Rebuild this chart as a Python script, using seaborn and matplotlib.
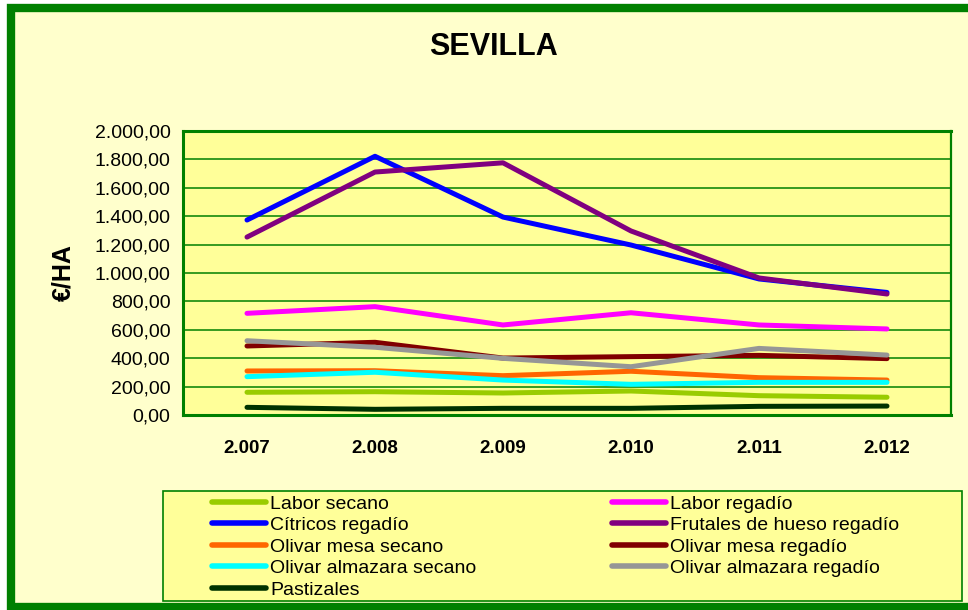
import matplotlib
matplotlib.use("Agg")
import matplotlib.pyplot as plt
from matplotlib.patches import Rectangle
from matplotlib.lines import Line2D
from matplotlib import font_manager
import seaborn as sns
import pandas as pd

# ---- data ----
years = ["2.007", "2.008", "2.009", "2.010", "2.011", "2.012"]
labor_secano = [160, 164, 155, 169, 136, 125]
labor_regadio = [716, 763, 634, 720, 634, 606]
citricos_regadio = [1373, 1822, 1394, 1197, 958, 863]
frutales_regadio = [1253, 1711, 1776, 1296, 965, 852]
olivar_mesa_secano = [310, 312, 277, 308, 263, 246]
olivar_mesa_regadio = [486, 512, 401, 411, 420, 397]
olivar_alm_secano = [270, 301, 246, 216, 230, 230]
olivar_alm_regadio = [523, 477, 399, 340, 469, 422]
pastizales = [54, 40, 47, 47, 61, 63]

series_names = ["Labor secano", "Labor regadío", "Cítricos regadío",
                "Frutales de hueso regadío", "Olivar mesa secano",
                "Olivar mesa regadío", "Olivar almazara secano",
                "Olivar almazara regadío", "Pastizales"]
series_values = [labor_secano, labor_regadio, citricos_regadio, frutales_regadio,
                 olivar_mesa_secano, olivar_mesa_regadio, olivar_alm_secano,
                 olivar_alm_regadio, pastizales]
colors = ["#99CC00", "#FF00FF", "#0000FF", "#800080", "#FF6600",
          "#800000", "#00FFFF", "#969696", "#003300"]

rows = []
for name, vals in zip(series_names, series_values):
    for i, v in enumerate(vals):
        rows.append({"serie": name, "x": i, "valor": v})
df = pd.DataFrame(rows)

sns.set_theme(style="white")
avail = {f.name for f in font_manager.fontManager.ttflist}
base = "Liberation Sans" if "Liberation Sans" in avail else "DejaVu Sans"
narrow = "Liberation Sans Narrow" if "Liberation Sans Narrow" in avail else base
plt.rcParams["font.family"] = [base, "DejaVu Sans"]
plt.rcParams["text.color"] = "black"
plt.rcParams["xtick.color"] = "black"
plt.rcParams["ytick.color"] = "black"
plt.rcParams["axes.labelcolor"] = "black"

W, H = 968, 610
fig = plt.figure(figsize=(W / 100, H / 100), dpi=100, facecolor="white")

# outer background with green border
green = "#008000"
fig.patches.append(Rectangle((11 / W, (H - 607) / H), 1100 / W, (607 - 8) / H,
                             transform=fig.transFigure, facecolor="#FFFFCC",
                             edgecolor=green, linewidth=6, zorder=-10))

ax = fig.add_axes([183 / W, (H - 415) / H, (951 - 183) / W, (415 - 131) / H])
ax.set_zorder(2)
ax.set_facecolor("#FFFF99")

palette = dict(zip(series_names, colors))
sns.lineplot(data=df, x="x", y="valor", hue="serie", hue_order=series_names,
             palette=palette, linewidth=3.6, sort=False, legend=False, ax=ax,
             solid_capstyle="round", zorder=3)

ax.set_xlim(-0.5, 5.5)
ax.set_ylim(0, 2000)
yt = list(range(0, 2001, 200))
ax.set_yticks(yt)
ax.set_yticklabels([f"{v:,.2f}".replace(",", "X").replace(".", ",").replace("X", ".")
                    for v in yt], fontsize=14)
ax.set_xticks(range(len(years)))
ax.set_xticklabels(years, fontsize=13.5, fontweight="bold")
ax.set_xticks([i - 0.5 for i in range(len(years) + 1)], minor=True)
ax.tick_params(axis="x", which="major", length=0, pad=18)
ax.tick_params(axis="x", which="minor", length=5, width=1.2, color=green, direction="out")
ax.tick_params(axis="y", length=6, width=1.2, color=green, direction="out", pad=3)
ax.yaxis.grid(True, color=green, linewidth=1.1, zorder=1)
ax.set_axisbelow(True)
for side, sp in ax.spines.items():
    sp.set_visible(True)
    sp.set_color(green)
    sp.set_linewidth(2.2 if side in ("left", "bottom", "top") else 1.6)

ax.set_xlabel("")
ax.set_ylabel("€/HA", fontsize=18, fontweight="bold", labelpad=14)
fig.text(493 / W, 1 - 47 / H, "SEVILLA", ha="center", va="center",
         fontsize=22, fontweight="bold")

# legend box
fig.patches.append(Rectangle((163 / W, (H - 601) / H), (962 - 163) / W, (601 - 491) / H,
                             transform=fig.transFigure, facecolor="#FFFF99",
                             edgecolor=green, linewidth=1.2, zorder=-5))

handles = {n: Line2D([], [], color=c, linewidth=4, solid_capstyle="round")
           for n, c in zip(series_names, colors)}
col1 = ["Labor secano", "Cítricos regadío", "Olivar mesa secano",
        "Olivar almazara secano", "Pastizales"]
col2 = ["Labor regadío", "Frutales de hueso regadío", "Olivar mesa regadío",
        "Olivar almazara regadío"]
for names, xpx in ((col1, 212), (col2, 612)):
    leg = fig.legend([handles[n] for n in names], names, loc="upper left",
                     bbox_to_anchor=(xpx / W, 1 - 495 / H), frameon=False,
                     borderpad=0, borderaxespad=0, handlelength=2.8,
                     handletextpad=0.2, labelspacing=0.2,
                     prop={"family": narrow, "size": 14})
    leg.set_zorder(5)

fig.savefig("out.png", dpi=100)
